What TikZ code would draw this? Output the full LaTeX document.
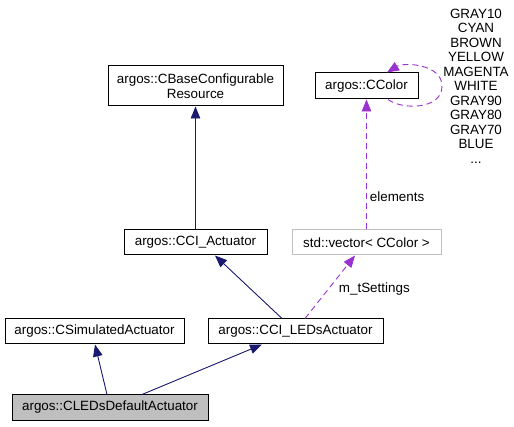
\documentclass[tikz,border=0pt]{standalone}
\usepackage{fontspec}
\setmainfont{Liberation Sans}
\usetikzlibrary{arrows.meta}
\definecolor{edgeblue}{HTML}{191970}
\definecolor{edgepurple}{HTML}{9A32CD}
\definecolor{boxgray}{HTML}{BFBFBF}
\begin{document}
\begin{tikzpicture}[x=1pt,y=-1pt,
  every node/.style={font=\fontsize{13.4}{14.5}\selectfont},
  cls/.style={draw=black, line width=1pt, inner sep=0pt, align=center},
  inh/.style={draw=edgeblue, line width=0.9pt, -{Triangle[length=12pt,width=9.5pt]}},
  use/.style={draw=edgepurple, line width=0.9pt, dash pattern=on 6pt off 4pt, -{Triangle[length=12pt,width=9.5pt]}},
  lbl/.style={inner sep=1pt}
]
\useasboundingbox (0,0) rectangle (514,427);
\node[cls, minimum width=175pt, minimum height=40pt] (base) at (195.5,86) {argos::CBaseConfigurable\\Resource};
\node[cls, minimum width=103pt, minimum height=26pt] (ccolor) at (366.5,86) {argos::CColor};
\node[cls, minimum width=143pt, minimum height=25pt] (cciact) at (195.5,242.5) {argos::CCI\_Actuator};
\node[cls, draw=boxgray, minimum width=149pt, minimum height=25pt] (vector) at (366.5,242.5) {std::vector< CColor >};
\node[cls, minimum width=179pt, minimum height=25pt] (simact) at (94.5,331.5) {argos::CSimulatedActuator};
\node[cls, minimum width=175pt, minimum height=25pt] (ledsact) at (295.5,331.5) {argos::CCI\_LEDsActuator};
\node[cls, fill=boxgray, minimum width=196pt, minimum height=25pt] (ledsdef) at (110,407.5) {argos::CLEDsDefaultActuator};

\draw[inh] (cciact.north) -- (base.south);
\draw[inh] ([xshift=-13.5pt]ledsact.north) -- ([xshift=19.5pt]cciact.south);
\draw[inh] ([xshift=-3pt]ledsdef.north) -- ([xshift=0.5pt]simact.south);
\draw[inh] ([xshift=32pt]ledsdef.north) -- ([xshift=-33.5pt]ledsact.south);

\draw[use] ([xshift=9.5pt]ledsact.north) -- ([xshift=-11.5pt]vector.south)
  node[lbl, pos=0.47, right=9pt] (mset) {m\_tSettings};
\draw[use] (vector.north) -- (ccolor.south)
  node[lbl, pos=0.25, right=2pt] (elem) {elements};
\draw[use] ([xshift=21.5pt]ccolor.south) .. controls (402,110) and (442,110) .. (442,86)
  .. controls (442,64) and (404,62) .. ([xshift=20.5pt]ccolor.north);

\node[align=center, inner sep=0pt] (vals) at (476,86) {GRAY10\\CYAN\\BROWN\\YELLOW\\MAGENTA\\WHITE\\GRAY90\\GRAY80\\GRAY70\\BLUE\\...};
\end{tikzpicture}
\end{document}
